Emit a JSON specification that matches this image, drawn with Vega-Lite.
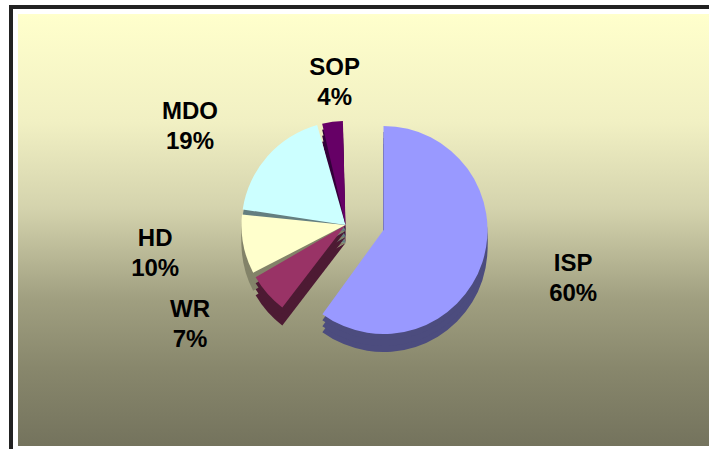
{
  "$schema": "https://vega.github.io/schema/vega-lite/v6.json",
  "width": 691,
  "height": 432,
  "autosize": {"type": "none"},
  "padding": {"left": 18, "top": 14, "right": 0, "bottom": 3},
  "background": "white",
  "config": {
    "view": {"stroke": null},
    "text": {"font": "Liberation Sans", "fontWeight": "bold", "fontSize": 24, "fill": "#000000"}
  },
  "data": {
    "values": [
      {"cat": "ISP", "share": 0.60, "seq": 1},
      {"cat": "WR", "share": 0.07, "seq": 2},
      {"cat": "HD", "share": 0.10, "seq": 3},
      {"cat": "MDO", "share": 0.19, "seq": 4},
      {"cat": "SOP", "share": 0.04, "seq": 5}
    ]
  },
  "layer": [
    {
      "description": "plot panel with vertical gradient",
      "mark": {
        "type": "rect",
        "fill": {
          "gradient": "linear",
          "x1": 0, "y1": 0, "x2": 0, "y2": 1,
          "stops": [
            {"offset": 0, "color": "#FFFFCC"},
            {"offset": 0.25, "color": "#F1F0C3"},
            {"offset": 0.45, "color": "#D4D3AD"},
            {"offset": 0.66, "color": "#A09F80"},
            {"offset": 0.82, "color": "#88876C"},
            {"offset": 1, "color": "#74735D"}
          ]
        }
      },
      "data": {"values": [{}]},
      "encoding": {
        "x": {"value": 0},
        "x2": {"value": {"expr": "width"}},
        "y": {"value": 0},
        "y2": {"value": {"expr": "height"}}
      }
    },
    {
      "mark": {"type": "rule", "stroke": "#222222", "strokeWidth": 4},
      "data": {"values": [{}]},
      "encoding": {
        "x": {"value": -9},
        "x2": {"value": {"expr": "width"}},
        "y": {"value": -7}
      }
    },
    {
      "mark": {"type": "rule", "stroke": "#222222", "strokeWidth": 4},
      "data": {"values": [{}]},
      "encoding": {
        "x": {"value": -7},
        "y": {"value": -9},
        "y2": {"value": {"expr": "height + 3"}}
      }
    },
    {
      "description": "side wall of the large slice",
      "mark": {"type": "arc", "outerRadius": 104, "xOffset": 20, "yOffset": 18},
      "encoding": {
        "theta": {"field": "share", "type": "quantitative", "stack": true},
        "order": {"field": "seq", "type": "quantitative"},
        "fill": {
          "field": "cat", "type": "nominal", "legend": null,
          "scale": {"domain": ["ISP", "WR", "HD", "MDO", "SOP"],
                    "range": ["#4C4C7E", "#4D1A33", "#838369", "#647F80", "#33003A"]}
        },
        "fillOpacity": {"condition": {"test": "datum.cat === 'ISP'", "value": 1}, "value": 0}
      }
    },
    {
      "mark": {"type": "arc", "outerRadius": 104, "xOffset": 20, "yOffset": 12},
      "encoding": {
        "theta": {"field": "share", "type": "quantitative", "stack": true},
        "order": {"field": "seq", "type": "quantitative"},
        "fill": {"field": "cat", "type": "nominal", "legend": null},
        "fillOpacity": {"condition": {"test": "datum.cat === 'ISP'", "value": 1}, "value": 0}
      }
    },
    {
      "mark": {"type": "arc", "outerRadius": 104, "xOffset": 20, "yOffset": 6},
      "encoding": {
        "theta": {"field": "share", "type": "quantitative", "stack": true},
        "order": {"field": "seq", "type": "quantitative"},
        "fill": {"field": "cat", "type": "nominal", "legend": null},
        "fillOpacity": {"condition": {"test": "datum.cat === 'ISP'", "value": 1}, "value": 0}
      }
    },
    {
      "description": "side walls of the pulled-out slices",
      "mark": {"type": "arc", "outerRadius": 104, "padAngle": 0.05, "xOffset": -18, "yOffset": 13},
      "encoding": {
        "theta": {"field": "share", "type": "quantitative", "stack": true},
        "order": {"field": "seq", "type": "quantitative"},
        "fill": {"field": "cat", "type": "nominal", "legend": null},
        "fillOpacity": {"condition": {"test": "datum.cat !== 'ISP'", "value": 1}, "value": 0}
      }
    },
    {
      "mark": {"type": "arc", "outerRadius": 104, "padAngle": 0.05, "xOffset": -18, "yOffset": 7},
      "encoding": {
        "theta": {"field": "share", "type": "quantitative", "stack": true},
        "order": {"field": "seq", "type": "quantitative"},
        "fill": {"field": "cat", "type": "nominal", "legend": null},
        "fillOpacity": {"condition": {"test": "datum.cat !== 'ISP'", "value": 1}, "value": 0}
      }
    },
    {
      "mark": {"type": "arc", "outerRadius": 104, "padAngle": 0.05, "xOffset": -18, "yOffset": 1},
      "encoding": {
        "theta": {"field": "share", "type": "quantitative", "stack": true},
        "order": {"field": "seq", "type": "quantitative"},
        "fill": {"field": "cat", "type": "nominal", "legend": null},
        "fillOpacity": {"condition": {"test": "datum.cat !== 'ISP'", "value": 1}, "value": 0}
      }
    },
    {
      "description": "top faces",
      "mark": {"type": "arc", "outerRadius": 104, "xOffset": 20, "yOffset": 0},
      "encoding": {
        "theta": {"field": "share", "type": "quantitative", "stack": true},
        "order": {"field": "seq", "type": "quantitative"},
        "color": {
          "field": "cat", "type": "nominal", "legend": null,
          "scale": {"domain": ["ISP", "WR", "HD", "MDO", "SOP"],
                    "range": ["#9999FF", "#993366", "#FFFFCC", "#CCFFFF", "#660066"]}
        },
        "fillOpacity": {"condition": {"test": "datum.cat === 'ISP'", "value": 1}, "value": 0}
      }
    },
    {
      "mark": {"type": "arc", "outerRadius": 104, "padAngle": 0.05, "xOffset": -18, "yOffset": -5},
      "encoding": {
        "theta": {"field": "share", "type": "quantitative", "stack": true},
        "order": {"field": "seq", "type": "quantitative"},
        "color": {"field": "cat", "type": "nominal", "legend": null},
        "fillOpacity": {"condition": {"test": "datum.cat !== 'ISP'", "value": 1}, "value": 0}
      }
    },
    {
      "description": "label for the large slice, set off to the right",
      "mark": {"type": "text", "radius": 150, "xOffset": 67, "yOffset": 3, "dy": -15},
      "encoding": {
        "theta": {"field": "share", "type": "quantitative", "stack": true},
        "order": {"field": "seq", "type": "quantitative"},
        "text": {"field": "cat", "type": "nominal"},
        "opacity": {"condition": {"test": "datum.cat === 'ISP'", "value": 1}, "value": 0}
      }
    },
    {
      "mark": {"type": "text", "radius": 150, "xOffset": 67, "yOffset": 3, "dy": 15},
      "encoding": {
        "theta": {"field": "share", "type": "quantitative", "stack": true},
        "order": {"field": "seq", "type": "quantitative"},
        "text": {"field": "share", "type": "quantitative", "format": ".0%"},
        "opacity": {"condition": {"test": "datum.cat === 'ISP'", "value": 1}, "value": 0}
      }
    },
    {
      "description": "label for the small top slice",
      "mark": {"type": "text", "radius": 150, "xOffset": -10, "yOffset": 2, "dy": -15},
      "encoding": {
        "theta": {"field": "share", "type": "quantitative", "stack": true},
        "order": {"field": "seq", "type": "quantitative"},
        "text": {"field": "cat", "type": "nominal"},
        "opacity": {"condition": {"test": "datum.cat === 'SOP'", "value": 1}, "value": 0}
      }
    },
    {
      "mark": {"type": "text", "radius": 150, "xOffset": -10, "yOffset": 2, "dy": 15},
      "encoding": {
        "theta": {"field": "share", "type": "quantitative", "stack": true},
        "order": {"field": "seq", "type": "quantitative"},
        "text": {"field": "share", "type": "quantitative", "format": ".0%"},
        "opacity": {"condition": {"test": "datum.cat === 'SOP'", "value": 1}, "value": 0}
      }
    },
    {
      "description": "labels for the slices on the left",
      "mark": {"type": "text", "radius": 150, "xOffset": -61, "yOffset": -4, "dy": -15},
      "encoding": {
        "theta": {"field": "share", "type": "quantitative", "stack": true},
        "order": {"field": "seq", "type": "quantitative"},
        "text": {"field": "cat", "type": "nominal"},
        "opacity": {"condition": {"test": "datum.cat === 'WR' || datum.cat === 'HD' || datum.cat === 'MDO'", "value": 1}, "value": 0}
      }
    },
    {
      "mark": {"type": "text", "radius": 150, "xOffset": -61, "yOffset": -4, "dy": 15},
      "encoding": {
        "theta": {"field": "share", "type": "quantitative", "stack": true},
        "order": {"field": "seq", "type": "quantitative"},
        "text": {"field": "share", "type": "quantitative", "format": ".0%"},
        "opacity": {"condition": {"test": "datum.cat === 'WR' || datum.cat === 'HD' || datum.cat === 'MDO'", "value": 1}, "value": 0}
      }
    }
  ]
}
